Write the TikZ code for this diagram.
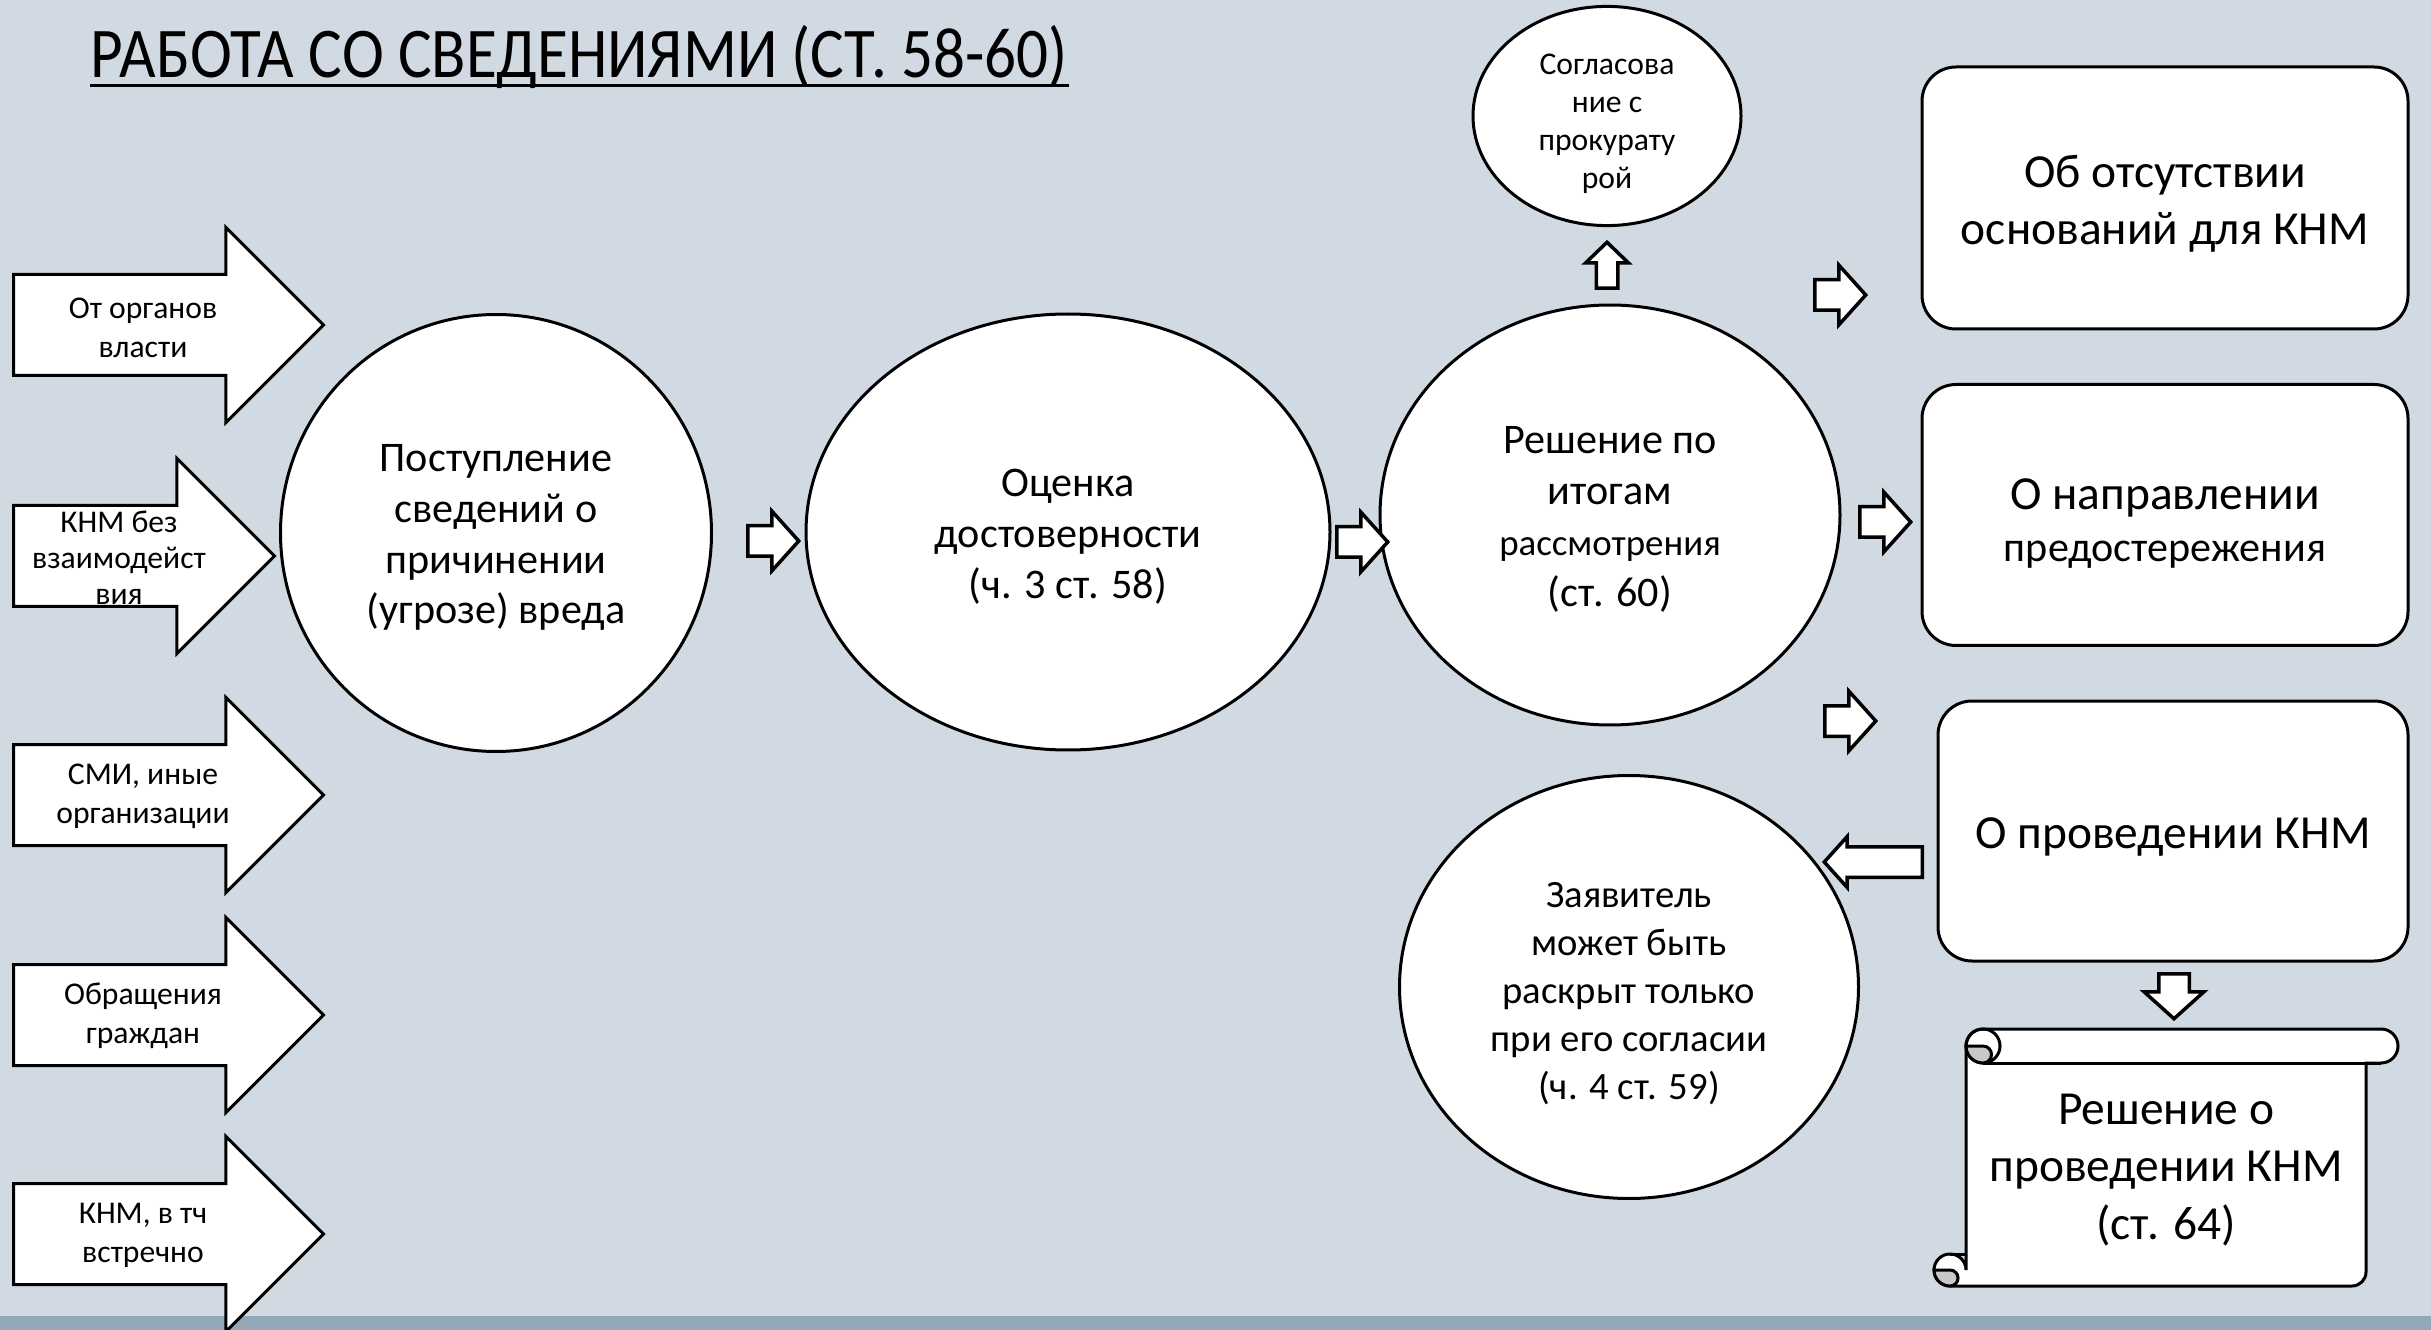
\documentclass[tikz,border=0pt]{standalone}
\usepackage{fontspec}
\setmainfont{Carlito}
\newfontfamily\titlefont[FakeStretch=0.885]{Carlito}
\usetikzlibrary{shapes,arrows}
\definecolor{slidebg}{RGB}{209,218,226}
\definecolor{slideband}{RGB}{146,168,185}
\definecolor{curlgray}{RGB}{200,200,200}
\newcommand{\topstrut}[1]{\rule{0pt}{#1}}

\begin{document}
\begin{tikzpicture}[x=0.1mm,y=-0.1mm]
      \tikzstyle{bigarrow} = [single arrow, draw, fill=white, line width=0.3mm, inner xsep=0pt, inner ysep=4.9mm, single arrow head extend=4.7mm, single arrow tip angle=90, anchor=tail, minimum height=31mm]
      \tikzstyle{smallarrow} = [single arrow, draw, fill=white, line width=0.35mm, inner xsep=0pt, inner ysep=1.35mm, single arrow head extend=1.45mm, single arrow tip angle=96, anchor=tail, minimum height=5.1mm]
      \tikzstyle{srctext} = [align=center, font=\fontsize{9}{11.1}\selectfont]
      \tikzstyle{oval} = [ellipse, draw, fill=white, line width=0.3mm, inner sep=0pt, align=center, font=\fontsize{12}{14.5}\selectfont]
      \tikzstyle{box} = [rectangle, rounded corners=3.4mm, draw, fill=white, line width=0.3mm, align=center, font=\fontsize{13.5}{16.3}\selectfont]
      \useasboundingbox (0,0) rectangle (2431,1330);
      \fill[slidebg] (0,0) rectangle (2431,1330);
      \fill[slideband] (0,1316) rectangle (2431,1330);
      % title
      \node[anchor=base west, inner sep=0pt, font=\titlefont\fontsize{20.3}{24}\selectfont] (title) at (90,78) {РАБОТА СО СВЕДЕНИЯМИ (СТ. 58-60)};
      \draw[line width=0.3mm] ([yshift=-0.75mm]title.base west)--([yshift=-0.75mm]title.base east);
      % sources
      \node[bigarrow] (a1) at (12,325) {};
      \node[bigarrow, minimum height=26.1mm] (a2) at (12,556) {};
      \node[bigarrow] (a3) at (12,795) {};
      \node[bigarrow] (a4) at (12,1015) {};
      \node[bigarrow] (a5) at (12,1234) {};
      \node[srctext] (s1) at (143,328) {От органов\\власти};
      \node[srctext, font=\fontsize{9}{10.3}\selectfont] (s2) at (119,558) {КНМ без\\взаимодейст\\вия};
      \node[srctext] (s3) at (143,796) {СМИ, иные\\организации};
      \node[srctext] (s4) at (143,1016) {Обращения\\граждан};
      \node[srctext] (s5) at (143,1235) {КНМ, в тч\\встречно};
      % main chain
      \node[oval, minimum width=43.1mm, minimum height=43.7mm] (receipt) at (496,533) {\topstrut{3.6mm}Поступление\\сведений о\\причинении\\(угрозе) вреда};
      \node[oval, minimum width=52.4mm, minimum height=43.6mm] (check) at (1068,532) {\topstrut{3.6mm}Оценка\\достоверности\\(ч. 3 ст. 58)};
      \node[oval, minimum width=46mm, minimum height=42mm] (decision) at (1610,515) {\topstrut{3.6mm}Решение по\\итогам\\{\fontsize{10.5}{14.5}\selectfont рассмотрения}\\(ст. 60)};
      \node[oval, font=\fontsize{9}{10.8}\selectfont, minimum width=26.8mm, minimum height=21.7mm] (prosecutor) at (1607,116) {\topstrut{3.6mm}Согласова\\ние с\\прокурату\\рой};
      \node[oval, font=\fontsize{11}{13.7}\selectfont, minimum width=45.9mm, minimum height=42.3mm] (applicant) at (1629,987) {\topstrut{3.8mm}Заявитель\\может быть\\раскрыт только\\при его согласии\\(ч. 4 ст. 59)};
      \node[smallarrow] (r12) at (746,541) {};
      \node[smallarrow] (r23) at (1335,542) {};
      \node[smallarrow, rotate=90, inner ysep=0.9mm, single arrow head extend=1.05mm, single arrow tip angle=92, minimum height=4.6mm] (rup) at (1607,290) {};
      % outcomes
      \node[box, minimum width=48.6mm, minimum height=26.2mm] (nobasis) at (2165,198) {\topstrut{4.4mm}Об отсутствии\\оснований для КНМ};
      \node[box, font=\fontsize{12}{15}\selectfont, minimum width=48.6mm, minimum height=26.1mm] (warning) at (2165,515) {\topstrut{4.8mm}{\fontsize{13.5}{15}\selectfont О направлении}\\предостережения};
      \node[box, minimum width=47mm, minimum height=26mm] (conduct) at (2173,831) {\topstrut{4.3mm}О проведении КНМ};
      \node[smallarrow] (ra) at (1813,295) {};
      \node[smallarrow] (rb) at (1858,522) {};
      \node[smallarrow] (rc) at (1823,721) {};
      \node[smallarrow, rotate=180, minimum height=9.8mm, single arrow head extend=1mm] (rl) at (1924,862) {};
      \node[smallarrow, rotate=270, minimum height=4.5mm] (rd) at (2174,972) {};
      % scroll
      \draw[line width=0.3mm, fill=white] (1966,1270)--(1966,1046) arc[start angle=180, end angle=270, radius=17]--(2381,1029) arc[start angle=270, end angle=450, radius=17]--(2366,1063)--(2366,1272) arc[start angle=0, end angle=90, radius=14]--(1950,1286) arc[start angle=90, end angle=360, radius=16]--cycle;
      \draw[line width=0.3mm] (1983,1063)--(2381,1063);
      \draw[line width=0.3mm] (1983,1046) circle[radius=17];
      \filldraw[line width=0.3mm, fill=curlgray] (1983,1046) arc[start angle=270, end angle=450, radius=8.5] arc[start angle=90, end angle=180, radius=17]--cycle;
      \filldraw[line width=0.3mm, fill=curlgray] (1950,1270) arc[start angle=270, end angle=450, radius=8] arc[start angle=90, end angle=180, radius=16]--cycle;
      \draw[line width=0.3mm] (1950,1254)--(1966,1254);
      \node[align=center, font=\fontsize{13.5}{16.3}\selectfont] (order) at (2166,1170) {Решение о\\проведении КНМ\\(ст. 64)};
\end{tikzpicture}
\end{document}
